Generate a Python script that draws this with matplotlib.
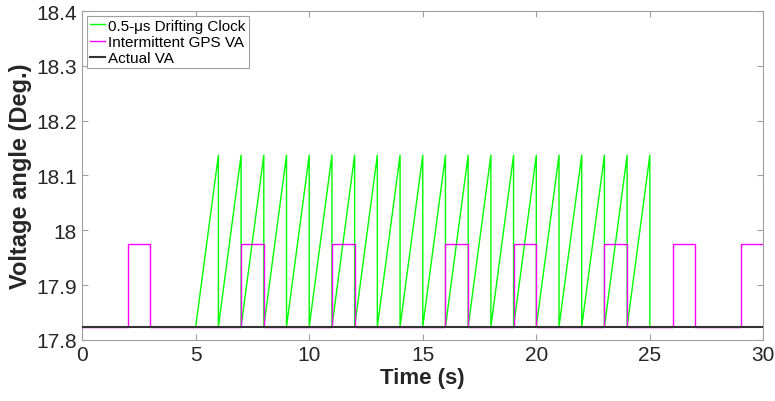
import matplotlib
matplotlib.use("Agg")
import matplotlib.pyplot as plt

plt.rcParams['font.family'] = ['Liberation Sans', 'DejaVu Sans']

# Drifting clock sawtooth (time, value)
clock_t = [0, 5, 6, 6, 7, 7, 8, 8, 9, 9, 10, 10, 11, 11, 12, 12, 13, 13, 14, 14, 15, 15,
           16, 16, 17, 17, 18, 18, 19, 19, 20, 20, 21, 21, 22, 22, 23, 23, 24, 24, 25, 25, 30]
clock_v = [17.824, 17.824] + [18.137, 17.824] * 20 + [17.824]

# Intermittent GPS pulses (time, value)
gps_t = [0, 2, 2, 3, 3, 7, 7, 8, 8, 11, 11, 12, 12, 16, 16, 17, 17, 19, 19, 20, 20,
         23, 23, 24, 24, 26, 26, 27, 27, 29, 29, 30]
gps_v = [17.824, 17.824, 17.975, 17.975, 17.824,
         17.824, 17.975, 17.975, 17.824,
         17.824, 17.975, 17.975, 17.824,
         17.824, 17.975, 17.975, 17.824,
         17.824, 17.975, 17.975, 17.824,
         17.824, 17.975, 17.975, 17.824,
         17.824, 17.975, 17.975, 17.824,
         17.824, 17.975, 17.975]

# Actual VA
actual_t = [0, 30]
actual_v = [17.824, 17.824]

x_ticks = [0, 5, 10, 15, 20, 25, 30]
y_ticks = [17.8, 17.9, 18.0, 18.1, 18.2, 18.3, 18.4]
y_labels = ['17.8', '17.9', '18', '18.1', '18.2', '18.3', '18.4']

fig = plt.figure(figsize=(7.75, 4.02), dpi=100)
ax = fig.add_axes([0.106, 0.152, 0.879, 0.818])

ax.plot(clock_t, clock_v, color='#00ff00', lw=1.0, label='0.5-μs Drifting Clock', zorder=2)
ax.plot(gps_t, gps_v, color='#ff00ff', lw=1.0, label='Intermittent GPS VA', zorder=3)
ax.plot(actual_t, actual_v, color='#333333', lw=1.5, label='Actual VA', zorder=4)

ax.set_xlim(0, 30)
ax.set_ylim(17.8, 18.4)
ax.set_xticks(x_ticks)
ax.set_yticks(y_ticks)
ax.set_yticklabels(y_labels)
ax.tick_params(direction='in', top=True, right=True, labelsize=15, labelcolor='#262626',
               length=4, width=0.8, pad=4, color='#a0a0a0')
for sp in ax.spines.values():
    sp.set_color('#a0a0a0')
    sp.set_linewidth(0.8)

ax.set_xlabel('Time (s)', fontsize=16, fontweight='bold', color='#262626', labelpad=2)
ax.set_ylabel('Voltage angle (Deg.)', fontsize=17, fontweight='bold', color='#262626', labelpad=3)

leg = ax.legend(loc='upper left', fontsize=11, handlelength=1.0, handletextpad=0.2,
                borderpad=0.2, labelspacing=0.15, borderaxespad=0.3, fancybox=False,
                framealpha=1, edgecolor='#a0a0a0')
leg.get_frame().set_linewidth(0.8)

fig.savefig('out.png', dpi=100)
